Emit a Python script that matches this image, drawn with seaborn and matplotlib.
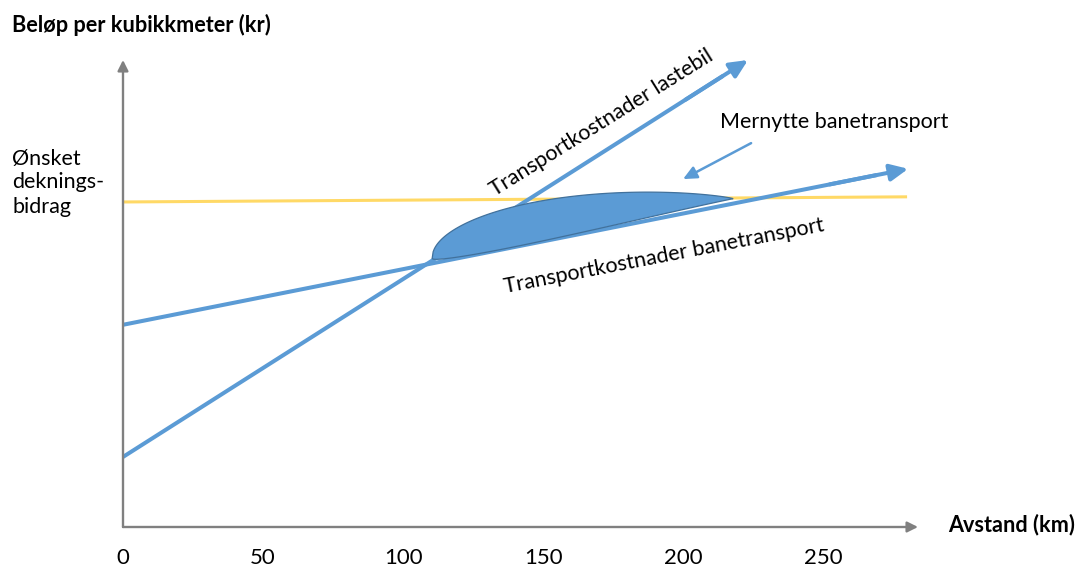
import numpy as np
import pandas as pd
import matplotlib
matplotlib.use("Agg")
import matplotlib.pyplot as plt
import seaborn as sns

# End points of each cost line: distance (km) -> cost per cubic metre (kr)
truck_km = [0, 223.2]
truck_kr = [15.0, 100.0]
rail_km = [0, 280.4]
rail_kr = [43.3, 76.7]
target_km = [0, 280.0]
target_kr = [69.6, 70.7]

# Extra benefit of rail transport: a lens lying just above the rail line
benefit_km = [110.4, 217.9]
benefit_lift_kr = 1.05
benefit_top_kr = 7.7
benefit_bottom_kr = 1.0

# Pointer towards the benefit area
pointer_km = [224.3, 200.0]
pointer_kr = [82.2, 74.5]

tick_km = [0, 50, 100, 150, 200, 250]
tick_labels = ["0", "50", "100", "150", "200", "250"]

BLUE = "#5B9BD5"
EDGE = "#41719C"
GOLD = "#FFD966"
GREY = "#808080"

sns.set_theme(style="white")
plt.rcParams["font.family"] = ["Lato", "DejaVu Sans"]

W, H = 1077, 570
fig = plt.figure(figsize=(W / 100, H / 100), dpi=100)
fig.patch.set_facecolor("white")
ax = fig.add_axes([123 / W, 43 / H, 795 / W, 467 / H])
ax.set_xlim(0, 283.9)
ax.set_ylim(0, 100)
for sp in ax.spines.values():
    sp.set_visible(False)

# Axes drawn as grey arrows
axis_arrow = dict(arrowstyle="-|>,head_length=0.9,head_width=0.45", color=GREY,
                  lw=1.7, mutation_scale=7, shrinkA=0, shrinkB=0)
ax.annotate("", xy=(0, 1), xytext=(0, 0), xycoords="axes fraction",
            arrowprops=axis_arrow, annotation_clip=False)
ax.annotate("", xy=(1, 0), xytext=(0, 0), xycoords="axes fraction",
            arrowprops=axis_arrow, annotation_clip=False)

# Target contribution margin
target = pd.DataFrame({"km": target_km, "kr": target_kr})
sns.lineplot(data=target, x="km", y="kr", color=GOLD, lw=2.2, ax=ax,
             solid_capstyle="butt", clip_on=False)

# Cost lines with arrow heads
head_style = "-|>,head_length=0.9,head_width=0.42"
for kms, krs in [(truck_km, truck_kr), (rail_km, rail_kr)]:
    frac = 0.96
    shaft = pd.DataFrame({"km": [kms[0], kms[0] + frac * (kms[1] - kms[0])],
                          "kr": [krs[0], krs[0] + frac * (krs[1] - krs[0])]})
    sns.lineplot(data=shaft, x="km", y="kr", color=BLUE, lw=2.9, ax=ax,
                 solid_capstyle="butt", clip_on=False)
    ax.annotate("", xy=(kms[1], krs[1]),
                xytext=(kms[0] + 0.9 * (kms[1] - kms[0]), krs[0] + 0.9 * (krs[1] - krs[0])),
                arrowprops=dict(arrowstyle=head_style, color=BLUE, lw=2.9,
                                mutation_scale=12, shrinkA=0, shrinkB=0),
                annotation_clip=False)

# Benefit lens
t = np.linspace(0, 1, 300)
lens_km = benefit_km[0] + t * (benefit_km[1] - benefit_km[0])
chord = np.interp(lens_km, rail_km, rail_kr) + benefit_lift_kr
top_shape = t ** 0.45 * (1 - t) ** 0.9
top_shape /= top_shape.max()
bot_shape = t ** 0.5 * (1 - t) ** 1.5
bot_shape /= bot_shape.max()
upper = chord + benefit_top_kr * top_shape
lower = chord - benefit_bottom_kr * bot_shape
ax.fill(np.r_[lens_km, lens_km[::-1]], np.r_[lower, upper[::-1]],
        facecolor=BLUE, edgecolor=EDGE, lw=0.9, zorder=5)

ax.annotate("", xy=(pointer_km[1], pointer_kr[1]), xytext=(pointer_km[0], pointer_kr[0]),
            arrowprops=dict(arrowstyle="-|>,head_length=0.9,head_width=0.42", color=BLUE,
                            lw=1.8, mutation_scale=9, shrinkA=0, shrinkB=0),
            annotation_clip=False)

# Ticks: distance labels only, no axis titles inside the axes
ax.set_yticks([])
ax.set_xticks(tick_km, tick_labels)
ax.tick_params(axis="x", length=0, pad=15, labelsize=16, labelcolor="black")
ax.xaxis.label.set_visible(False)
ax.yaxis.label.set_visible(False)

# Labels
fs = 15.5
ax.text(132.9, 70.7, "Transportkostnader lastebil", rotation=32, rotation_mode="anchor",
        ha="left", va="baseline", fontsize=fs, color="black")
ax.text(136.4, 50.1, "Transportkostnader banetransport", rotation=11, rotation_mode="anchor",
        ha="left", va="baseline", fontsize=fs, color="black")
ax.text(213.2, 85.4, "Mernytte banetransport", ha="left", va="baseline",
        fontsize=fs, color="black")

fig.text(12 / W, 1 - 32 / H, "Beløp per kubikkmeter (kr)", ha="left", va="baseline",
         fontsize=15.6, fontweight="bold", color="black")
fig.text(948 / W, 1 - 531 / H, "Avstand (km)", ha="left", va="baseline",
         fontsize=15.6, fontweight="bold", color="black")
for line, base in zip(["Ønsket", "deknings-", "bidrag"], [165, 188, 213]):
    fig.text(12 / W, 1 - base / H, line, ha="left", va="baseline",
             fontsize=fs, color="black")

fig.savefig("out.png", dpi=100, facecolor="white")
